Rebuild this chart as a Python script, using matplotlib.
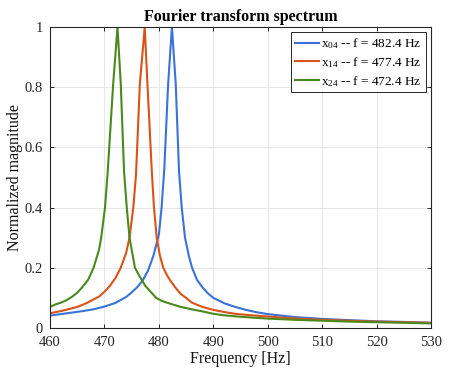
import matplotlib
matplotlib.use("Agg")
import matplotlib.pyplot as plt

plt.rcParams['font.family'] = ['Liberation Serif', 'DejaVu Serif']
plt.rcParams['mathtext.fontset'] = 'custom'
plt.rcParams['mathtext.rm'] = 'Liberation Serif'
plt.rcParams['mathtext.it'] = 'Liberation Serif:italic'

# --- data ---
f04 = [460, 462, 464, 466, 468, 470, 472, 474, 475, 476, 477, 478, 479, 480, 480.5,
       481, 481.7, 482.4, 483.1, 483.7, 484.2, 484.8, 485.5, 486.1, 487, 488, 489,
       490, 492, 494, 496, 498, 500, 505, 510, 515, 520, 525, 530]
m04 = [0.041, 0.046, 0.051, 0.056, 0.062, 0.071, 0.083, 0.103, 0.118, 0.135, 0.157,
       0.19, 0.24, 0.31, 0.40, 0.53, 0.81, 1.0, 0.81, 0.52, 0.40, 0.30, 0.24, 0.20,
       0.16, 0.135, 0.115, 0.10, 0.082, 0.07, 0.06, 0.052, 0.046, 0.036, 0.03, 0.026,
       0.022, 0.02, 0.017]

f14 = [460, 462, 464, 465, 466, 467, 468, 469, 470, 471, 472, 473, 474, 474.6, 475.3,
       475.8, 476.5, 477.4, 477.9, 478.7, 479.1, 479.6, 480.2, 480.8, 481.5, 482, 483,
       484, 485, 486, 487, 488, 490, 492, 494, 497, 500, 505, 510, 515, 520, 525, 530]
m14 = [0.049, 0.056, 0.065, 0.07, 0.077, 0.085, 0.095, 0.104, 0.12, 0.14, 0.165, 0.2,
       0.25, 0.30, 0.40, 0.51, 0.81, 1.0, 0.81, 0.52, 0.40, 0.30, 0.24, 0.2, 0.175,
       0.16, 0.135, 0.113, 0.1, 0.085, 0.077, 0.07, 0.06, 0.053, 0.047, 0.042, 0.038,
       0.031, 0.027, 0.024, 0.021, 0.019, 0.017]

f24 = [460, 461, 462, 463, 464, 465, 466, 467, 468, 469, 469.4, 470.1, 470.6, 471.6,
       472.4, 473.0, 473.6, 474.1, 474.6, 475.6, 476.5, 477.5, 478.5, 479.5, 480.5,
       482, 484, 486, 488, 490, 492, 495, 500, 505, 510, 515, 520, 525, 530]
m24 = [0.07, 0.078, 0.084, 0.092, 0.103, 0.117, 0.137, 0.16, 0.2, 0.26, 0.30, 0.40,
       0.52, 0.81, 1.0, 0.81, 0.52, 0.40, 0.30, 0.20, 0.17, 0.14, 0.12, 0.1, 0.09,
       0.081, 0.07, 0.062, 0.055, 0.047, 0.042, 0.037, 0.031, 0.027, 0.024, 0.021,
       0.019, 0.017, 0.015]

labels = [r'x$_{04}$ -- f = 482.4 Hz', r'x$_{14}$ -- f = 477.4 Hz', r'x$_{24}$ -- f = 472.4 Hz']
colors = ['#3a72d8', '#d95319', '#4a8a1d']
xticks = [460, 470, 480, 490, 500, 510, 520, 530]
yticks = [0, 0.2, 0.4, 0.6, 0.8, 1]
ytick_labels = ['0', '0.2', '0.4', '0.6', '0.8', '1']

fig = plt.figure(figsize=(4.59, 3.80), dpi=100)
ax = fig.add_axes([0.109, 0.137, 0.830, 0.792])

for f, m, lab, c in zip([f04, f14, f24], [m04, m14, m24], labels, colors):
    ax.plot(f, m, color=c, lw=1.5, label=lab)

ax.set_xlim(460, 530)
ax.set_ylim(0, 1)
ax.set_xticks(xticks)
ax.set_yticks(yticks)
ax.set_yticklabels(ytick_labels)
ax.grid(True, color='#e3e3e3', lw=0.6)
ax.set_axisbelow(True)
ax.tick_params(direction='in', top=True, right=True, labelsize=10.5,
               colors='#262626', length=3, width=0.7)
ax.tick_params(axis='x', pad=6)
ax.tick_params(axis='y', pad=5)
for s in ax.spines.values():
    s.set_color('#262626')
    s.set_linewidth(0.8)

ax.set_xlabel('Frequency [Hz]', fontsize=11.5, color='#111111', labelpad=1)
ax.set_ylabel('Normalized magnitude', fontsize=11.5, color='#111111', labelpad=1)
ax.set_title('Fourier transform spectrum', fontsize=11.5, fontweight='bold', pad=4)

leg = ax.legend(loc='upper right', fontsize=9.5, fancybox=False, framealpha=1,
                edgecolor='#262626', handlelength=1.8, handletextpad=0.2,
                borderpad=0.3, labelspacing=0.3, borderaxespad=0.4)
leg.get_frame().set_linewidth(0.7)

fig.savefig('out.png', dpi=100)
